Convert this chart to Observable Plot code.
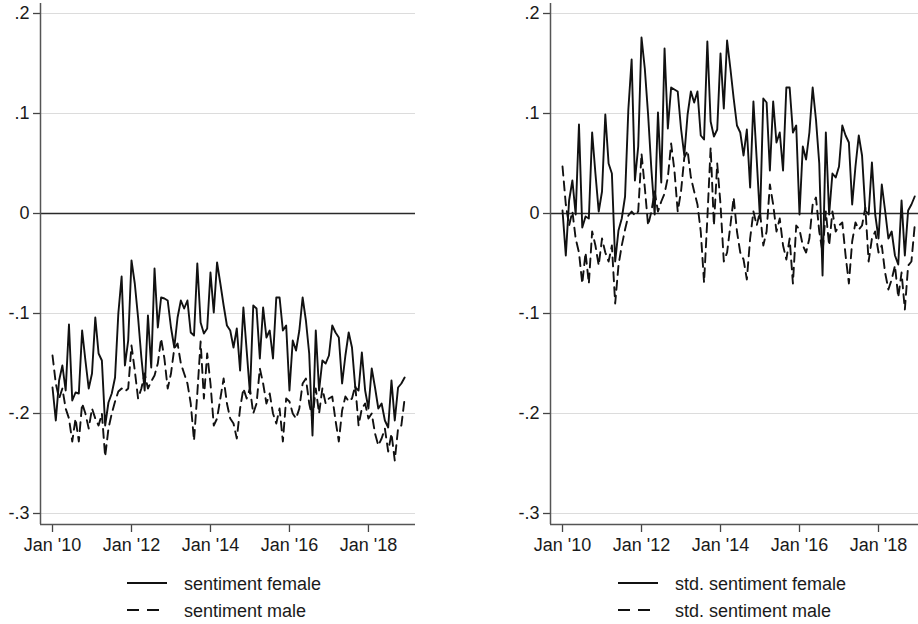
<!DOCTYPE html>
<html><head><meta charset="utf-8">
<script src="https://cdn.jsdelivr.net/npm/d3@7"></script>
<script src="https://cdn.jsdelivr.net/npm/@observablehq/plot@0.6"></script>
<style>
body{margin:0;background:#fff;font-family:"Liberation Sans",Arial,sans-serif;}
#wrap{display:flex;width:918px;height:624px;overflow:hidden;}
.panel{width:459px;flex:none;}
.panel svg{display:block;}
</style></head><body>
<div id="wrap"><div class="panel" id="p1"></div><div class="panel" id="p2"></div></div>
<script>
// Monthly observations, Jan 2010 .. Dec 2018 (index 0 = Jan 2010)
const sentimentFemale = [
 -0.174,-0.207,-0.167,-0.152,-0.177,-0.111,-0.187,-0.179,-0.180,-0.117,-0.147,-0.175,
 -0.160,-0.104,-0.140,-0.147,-0.212,-0.189,-0.180,-0.164,-0.100,-0.063,-0.152,-0.127,
 -0.047,-0.070,-0.104,-0.144,-0.177,-0.102,-0.154,-0.055,-0.114,-0.084,-0.085,-0.087,
 -0.114,-0.134,-0.104,-0.087,-0.095,-0.087,-0.119,-0.122,-0.050,-0.109,-0.120,-0.115,
 -0.059,-0.099,-0.049,-0.070,-0.092,-0.112,-0.117,-0.134,-0.115,-0.157,-0.094,-0.137,
 -0.180,-0.092,-0.095,-0.145,-0.094,-0.124,-0.117,-0.145,-0.084,-0.084,-0.117,-0.112,
 -0.177,-0.127,-0.137,-0.117,-0.084,-0.107,-0.140,-0.222,-0.117,-0.177,-0.147,-0.150,
 -0.142,-0.112,-0.119,-0.124,-0.170,-0.142,-0.119,-0.134,-0.174,-0.177,-0.139,-0.177,
 -0.195,-0.155,-0.174,-0.195,-0.190,-0.207,-0.214,-0.167,-0.207,-0.174,-0.170,-0.164];
const sentimentMale = [
 -0.142,-0.170,-0.185,-0.175,-0.195,-0.205,-0.228,-0.205,-0.228,-0.190,-0.200,-0.215,
 -0.195,-0.205,-0.212,-0.200,-0.243,-0.215,-0.200,-0.188,-0.178,-0.175,-0.178,-0.175,
 -0.132,-0.157,-0.185,-0.175,-0.160,-0.175,-0.168,-0.162,-0.150,-0.125,-0.145,-0.175,
 -0.160,-0.135,-0.130,-0.150,-0.160,-0.170,-0.190,-0.227,-0.180,-0.128,-0.185,-0.140,
 -0.170,-0.212,-0.205,-0.185,-0.165,-0.190,-0.205,-0.210,-0.225,-0.195,-0.175,-0.185,
 -0.175,-0.200,-0.190,-0.155,-0.170,-0.190,-0.180,-0.200,-0.210,-0.195,-0.228,-0.185,
 -0.188,-0.200,-0.205,-0.195,-0.170,-0.165,-0.190,-0.205,-0.175,-0.200,-0.175,-0.190,
 -0.185,-0.183,-0.207,-0.228,-0.197,-0.183,-0.188,-0.185,-0.172,-0.212,-0.195,-0.190,
 -0.205,-0.200,-0.220,-0.232,-0.225,-0.215,-0.238,-0.220,-0.247,-0.215,-0.212,-0.185];
const stdSentimentFemale = [
 0.003,-0.042,0.013,0.033,-0.001,0.089,-0.014,-0.003,-0.005,0.081,0.040,0.002,
 0.022,0.099,0.050,0.040,-0.048,-0.017,-0.005,0.017,0.104,0.154,0.033,0.067,
 0.176,0.145,0.099,0.044,-0.001,0.101,0.031,0.165,0.085,0.126,0.124,0.122,
 0.085,0.058,0.099,0.122,0.111,0.122,0.078,0.074,0.172,0.092,0.077,0.084,
 0.160,0.105,0.173,0.145,0.115,0.088,0.081,0.058,0.084,0.026,0.112,0.054,
 -0.005,0.115,0.111,0.043,0.112,0.071,0.081,0.043,0.126,0.126,0.081,0.088,
 -0.001,0.067,0.054,0.081,0.126,0.094,0.050,-0.062,0.081,-0.001,0.040,0.036,
 0.047,0.088,0.078,0.071,0.009,0.047,0.078,0.058,0.003,-0.001,0.051,-0.001,
 -0.025,0.029,0.003,-0.025,-0.018,-0.042,-0.051,0.013,-0.042,0.003,0.009,0.017];
const stdSentimentMale = [
 0.047,0.009,-0.012,0.002,-0.025,-0.039,-0.070,-0.039,-0.070,-0.018,-0.032,-0.052,
 -0.025,-0.039,-0.048,-0.032,-0.090,-0.052,-0.032,-0.016,-0.002,0.002,-0.002,0.002,
 0.060,0.026,-0.012,0.002,0.022,0.002,0.012,0.020,0.036,0.070,0.043,0.002,
 0.022,0.056,0.063,0.036,0.022,0.009,-0.018,-0.069,-0.005,0.066,-0.012,0.050,
 0.009,-0.048,-0.039,-0.012,0.016,-0.018,-0.039,-0.046,-0.066,-0.025,0.002,-0.012,
 0.002,-0.032,-0.018,0.029,0.009,-0.018,-0.005,-0.032,-0.046,-0.025,-0.070,-0.012,
 -0.016,-0.032,-0.039,-0.025,0.009,0.016,-0.018,-0.039,0.002,-0.032,0.002,-0.018,
 -0.012,-0.009,-0.042,-0.070,-0.028,-0.009,-0.016,-0.012,0.006,-0.048,-0.025,-0.018,
 -0.039,-0.032,-0.059,-0.076,-0.066,-0.052,-0.084,-0.059,-0.096,-0.052,-0.048,-0.012];

const xTickMonths = [0, 24, 48, 72, 96];
const xTickLabels = ["Jan '10", "Jan '12", "Jan '14", "Jan '16", "Jan '18"];
const yTickValues = [-0.3, -0.2, -0.1, 0, 0.1, 0.2];
const yTickLabels = ["-.3", "-.2", "-.1", "0", ".1", ".2"];
const legendLeft = ["sentiment female", "sentiment male"];
const legendRight = ["std. sentiment female", "std. sentiment male"];

const FONT = "'Liberation Sans', Arial, sans-serif";
const INK = "#111";

function panel(female, male, o) {
  return Plot.plot({
    width: 459, height: 560,
    marginLeft: o.ml, marginRight: o.mr, marginTop: 3, marginBottom: 36,
    style: {fontFamily: FONT, fontSize: "18px", color: "#1a1a1a", background: "white", overflow: "visible"},
    x: {domain: o.xd, label: null},
    y: {domain: [-0.311, 0.21], label: null},
    marks: [
      Plot.gridY(yTickValues, {stroke: "#dcdcdc", strokeOpacity: 1, strokeWidth: 1}),
      Plot.ruleY([0], {stroke: "#2a2a2a", strokeWidth: 1.7}),
      Plot.axisX(xTickMonths, {tickFormat: d => xTickLabels[xTickMonths.indexOf(d)], tickSize: 8, tickPadding: 6, stroke: "#444", strokeWidth: 1.3, fontSize: 18}),
      Plot.axisY(yTickValues, {tickFormat: d => yTickLabels[yTickValues.indexOf(d)], tickSize: 7, tickPadding: 4, stroke: "#444", strokeWidth: 1.3, fontSize: 18}),
      Plot.ruleX([o.xd[0]], {stroke: "#555", strokeWidth: 1.5}),
      Plot.ruleY([-0.311], {stroke: "#555", strokeWidth: 1.5}),
      Plot.lineY(male, {x: (d, i) => i, y: d => d, stroke: INK, strokeWidth: 1.9, strokeDasharray: "9,6"}),
      Plot.lineY(female, {x: (d, i) => i, y: d => d, stroke: INK, strokeWidth: 1.9})
    ]
  });
}

function legend(labels, lineX, textX) {
  const ns = "http://www.w3.org/2000/svg";
  const svg = document.createElementNS(ns, "svg");
  svg.setAttribute("width", 459); svg.setAttribute("height", 64);
  const rows = [{y: 23, dash: null}, {y: 50, dash: "12,8"}];
  rows.forEach((r, k) => {
    const l = document.createElementNS(ns, "line");
    l.setAttribute("x1", lineX); l.setAttribute("x2", lineX + 40);
    l.setAttribute("y1", r.y); l.setAttribute("y2", r.y);
    l.setAttribute("stroke", INK); l.setAttribute("stroke-width", 1.9);
    if (r.dash) l.setAttribute("stroke-dasharray", r.dash);
    svg.appendChild(l);
    const t = document.createElementNS(ns, "text");
    t.setAttribute("x", textX); t.setAttribute("y", r.y + 6.5);
    t.setAttribute("font-family", FONT); t.setAttribute("font-size", 18);
    t.setAttribute("fill", "#1a1a1a");
    t.textContent = labels[k];
    svg.appendChild(t);
  });
  return svg;
}

const p1 = document.getElementById("p1");
p1.appendChild(panel(sentimentFemale, sentimentMale, {ml: 40, mr: 44, xd: [-3.65, 110.3]}));
p1.appendChild(legend(legendLeft, 127, 184));
const p2 = document.getElementById("p2");
p2.appendChild(panel(stdSentimentFemale, stdSentimentMale, {ml: 91, mr: 0, xd: [-3.65, 108.15]}));
p2.appendChild(legend(legendRight, 159, 216));
</script>
</body></html>
